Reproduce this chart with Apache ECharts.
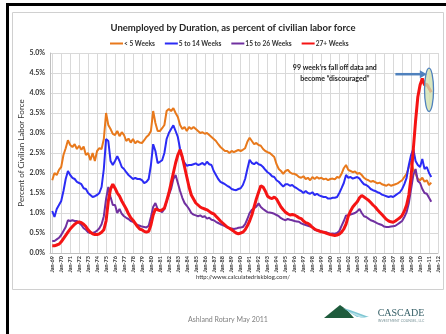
<!DOCTYPE html>
<html>
<head>
<meta charset="utf-8">
<script src="https://cdn.jsdelivr.net/npm/echarts@6.0.0/dist/echarts.min.js"></script>
<style>
  html, body { margin: 0; padding: 0; background: #ffffff; }
  #chart { width: 446px; height: 334px; }
</style>
</head>
<body>
<div id="chart"></div>
<script>
// Unemployed by duration as a percent of the civilian labor force.
// Quarterly readings (Jan, Apr, Jul, Oct) starting Jan 1969, ending Apr 2011.

const seriesNames = ['< 5 Weeks', '5 to 14 Weeks', '15 to 26 Weeks', '27+ Weeks'];

const underFiveWeeks = [
  1.82, 2.00, 1.95, 2.08,  // 1969
  2.15, 2.45, 2.62, 2.82,  // 1970
  2.70, 2.65, 2.72, 2.60,  // 1971
  2.68, 2.58, 2.66, 2.45,  // 1972
  2.50, 2.32, 2.50, 2.30,  // 1973
  2.55, 2.62, 2.60, 2.85,  // 1974
  3.50, 3.20, 3.10, 2.98,  // 1975
  2.95, 3.05, 2.92, 3.02,  // 1976
  2.95, 2.80, 2.86, 2.76,  // 1977
  2.85, 2.74, 2.80, 2.76,  // 1978
  2.75, 2.82, 2.90, 2.95,  // 1979
  3.05, 3.55, 3.25, 3.05,  // 1980
  3.05, 3.12, 3.20, 3.55,  // 1981
  3.60, 3.55, 3.62, 3.50,  // 1982
  3.40, 3.20, 3.10, 3.15,  // 1983
  3.05, 3.15, 3.10, 3.15,  // 1984
  3.10, 3.05, 3.00, 3.02,  // 1985
  2.98, 3.00, 2.95, 2.90,  // 1986
  2.85, 2.80, 2.72, 2.65,  // 1987
  2.60, 2.55, 2.55, 2.50,  // 1988
  2.55, 2.52, 2.55, 2.58,  // 1989
  2.55, 2.58, 2.62, 2.78,  // 1990
  2.88, 2.80, 2.72, 2.75,  // 1991
  2.70, 2.68, 2.60, 2.55,  // 1992
  2.52, 2.50, 2.45, 2.40,  // 1993
  2.22, 2.10, 2.05, 1.98,  // 1994
  2.05, 2.08, 2.02, 1.98,  // 1995
  1.98, 1.95, 1.90, 1.88,  // 1996
  1.92, 1.85, 1.88, 1.82,  // 1997
  1.90, 1.85, 1.90, 1.86,  // 1998
  1.88, 1.84, 1.86, 1.82,  // 1999
  1.85, 1.86, 1.84, 1.90,  // 2000
  1.88, 1.98, 2.12, 2.20,  // 2001
  2.08, 2.05, 2.02, 2.04,  // 2002
  1.98, 2.00, 1.95, 1.88,  // 2003
  1.84, 1.82, 1.78, 1.80,  // 2004
  1.77, 1.74, 1.76, 1.72,  // 2005
  1.70, 1.68, 1.72, 1.68,  // 2006
  1.70, 1.72, 1.74, 1.78,  // 2007
  1.82, 1.90, 1.98, 2.15,  // 2008
  2.30, 2.08, 1.98, 1.85,  // 2009
  1.82, 1.88, 1.78, 1.82,  // 2010
  1.70, 1.76               // 2011
];

const fiveToFourteenWeeks = [
  1.05, 0.90, 1.10, 1.20,  // 1969
  1.30, 1.55, 1.85, 2.05,  // 1970
  1.95, 1.88, 1.85, 1.78,  // 1971
  1.75, 1.72, 1.62, 1.60,  // 1972
  1.50, 1.45, 1.40, 1.42,  // 1973
  1.45, 1.50, 1.65, 2.10,  // 1974
  2.85, 2.80, 2.30, 2.20,  // 1975
  2.30, 2.42, 2.30, 2.15,  // 1976
  2.10, 2.02, 1.95, 1.90,  // 1977
  1.85, 1.88, 1.85, 1.85,  // 1978
  1.82, 1.75, 1.78, 1.85,  // 1979
  2.20, 2.72, 2.55, 2.25,  // 1980
  2.28, 2.32, 2.50, 2.85,  // 1981
  3.00, 3.10, 3.19, 3.05,  // 1982
  2.90, 2.60, 2.35, 2.25,  // 1983
  2.18, 2.20, 2.20, 2.22,  // 1984
  2.24, 2.20, 2.22, 2.25,  // 1985
  2.20, 2.28, 2.22, 2.20,  // 1986
  2.05, 1.95, 1.85, 1.78,  // 1987
  1.75, 1.72, 1.68, 1.65,  // 1988
  1.60, 1.58, 1.57, 1.60,  // 1989
  1.62, 1.70, 1.85, 2.10,  // 1990
  2.33, 2.25, 2.22, 2.27,  // 1991
  2.22, 2.20, 2.15, 2.08,  // 1992
  2.02, 1.98, 1.92, 1.90,  // 1993
  1.82, 1.78, 1.72, 1.66,  // 1994
  1.72, 1.72, 1.68, 1.70,  // 1995
  1.65, 1.62, 1.58, 1.55,  // 1996
  1.50, 1.55, 1.50, 1.48,  // 1997
  1.52, 1.45, 1.48, 1.44,  // 1998
  1.42, 1.40, 1.40, 1.36,  // 1999
  1.36, 1.38, 1.38, 1.40,  // 2000
  1.50, 1.62, 1.75, 1.95,  // 2001
  1.88, 1.90, 1.86, 1.88,  // 2002
  1.90, 1.86, 1.78, 1.72,  // 2003
  1.70, 1.66, 1.60, 1.57,  // 2004
  1.55, 1.52, 1.50, 1.46,  // 2005
  1.44, 1.42, 1.40, 1.42,  // 2006
  1.40, 1.44, 1.48, 1.52,  // 2007
  1.60, 1.72, 1.88, 2.20,  // 2008
  2.45, 2.60, 2.30, 2.20,  // 2009
  2.15, 2.35, 2.10, 2.15,  // 2010
  2.00, 1.90               // 2011
];

const fifteenToTwentySixWeeks = [
  0.30, 0.30, 0.34, 0.38,  // 1969
  0.45, 0.55, 0.65, 0.82,  // 1970
  0.80, 0.82, 0.80, 0.80,  // 1971
  0.75, 0.70, 0.62, 0.58,  // 1972
  0.52, 0.50, 0.50, 0.52,  // 1973
  0.56, 0.62, 0.72, 0.92,  // 1974
  1.35, 1.65, 1.40, 1.20,  // 1975
  1.20, 1.00, 1.10, 0.98,  // 1976
  0.92, 0.88, 0.85, 0.80,  // 1977
  0.78, 0.74, 0.70, 0.68,  // 1978
  0.66, 0.65, 0.64, 0.68,  // 1979
  0.90, 1.15, 1.25, 1.10,  // 1980
  1.06, 1.02, 1.10, 1.30,  // 1981
  1.45, 1.60, 1.85, 1.95,  // 1982
  1.75, 1.55, 1.38, 1.25,  // 1983
  1.18, 1.10, 1.00, 0.96,  // 1984
  0.94, 0.92, 0.94, 0.90,  // 1985
  0.92, 0.86, 0.88, 0.83,  // 1986
  0.82, 0.78, 0.75, 0.72,  // 1987
  0.70, 0.67, 0.64, 0.62,  // 1988
  0.61, 0.60, 0.61, 0.63,  // 1989
  0.64, 0.65, 0.72, 0.85,  // 1990
  1.00, 1.08, 1.12, 1.16,  // 1991
  1.24, 1.15, 1.10, 1.06,  // 1992
  1.02, 1.01, 1.00, 0.98,  // 1993
  0.95, 0.92, 0.87, 0.84,  // 1994
  0.82, 0.85, 0.83, 0.82,  // 1995
  0.80, 0.79, 0.78, 0.74,  // 1996
  0.72, 0.70, 0.68, 0.66,  // 1997
  0.65, 0.58, 0.56, 0.56,  // 1998
  0.54, 0.52, 0.52, 0.50,  // 1999
  0.48, 0.49, 0.48, 0.50,  // 2000
  0.55, 0.68, 0.80, 0.94,  // 2001
  0.94, 0.96, 0.98, 1.00,  // 2002
  1.04, 1.10, 1.00, 0.92,  // 2003
  0.90, 0.86, 0.82, 0.80,  // 2004
  0.77, 0.74, 0.72, 0.70,  // 2005
  0.66, 0.65, 0.65, 0.66,  // 2006
  0.67, 0.68, 0.72, 0.76,  // 2007
  0.80, 0.90, 1.02, 1.25,  // 2008
  1.60, 1.95, 2.10, 1.80,  // 2009
  1.75, 1.60, 1.50, 1.48,  // 2010
  1.38, 1.28               // 2011
];

const twentySevenPlusWeeks = [
  0.18, 0.18, 0.20, 0.22,  // 1969
  0.28, 0.36, 0.44, 0.52,  // 1970
  0.60, 0.66, 0.72, 0.76,  // 1971
  0.78, 0.76, 0.72, 0.66,  // 1972
  0.58, 0.52, 0.48, 0.46,  // 1973
  0.46, 0.48, 0.52, 0.58,  // 1974
  0.80, 1.30, 1.60, 1.72,  // 1975
  1.62, 1.50, 1.42, 1.30,  // 1976
  1.20, 1.10, 0.98, 0.88,  // 1977
  0.82, 0.74, 0.66, 0.60,  // 1978
  0.58, 0.54, 0.52, 0.54,  // 1979
  0.70, 0.95, 1.10, 1.08,  // 1980
  1.06, 1.08, 1.12, 1.30,  // 1981
  1.50, 1.75, 2.00, 2.25,  // 1982
  2.45, 2.58, 2.40, 2.15,  // 1983
  1.90, 1.65, 1.45, 1.35,  // 1984
  1.25, 1.20, 1.15, 1.12,  // 1985
  1.10, 1.08, 1.04, 1.00,  // 1986
  0.98, 0.92, 0.86, 0.80,  // 1987
  0.75, 0.70, 0.65, 0.62,  // 1988
  0.58, 0.54, 0.50, 0.48,  // 1989
  0.50, 0.52, 0.58, 0.68,  // 1990
  0.80, 0.95, 1.15, 1.35,  // 1991
  1.52, 1.68, 1.65, 1.55,  // 1992
  1.42, 1.38, 1.36, 1.40,  // 1993
  1.35, 1.25, 1.15, 1.08,  // 1994
  1.02, 0.98, 0.95, 0.96,  // 1995
  0.95, 0.92, 0.88, 0.86,  // 1996
  0.80, 0.76, 0.74, 0.70,  // 1997
  0.64, 0.60, 0.57, 0.55,  // 1998
  0.53, 0.52, 0.50, 0.48,  // 1999
  0.46, 0.45, 0.44, 0.45,  // 2000
  0.47, 0.52, 0.60, 0.72,  // 2001
  0.92, 1.05, 1.15, 1.22,  // 2002
  1.28, 1.38, 1.44, 1.40,  // 2003
  1.36, 1.32, 1.26, 1.20,  // 2004
  1.15, 1.08, 1.02, 0.96,  // 2005
  0.90, 0.84, 0.80, 0.78,  // 2006
  0.77, 0.80, 0.84, 0.88,  // 2007
  0.94, 1.05, 1.20, 1.45,  // 2008
  1.90, 2.60, 3.30, 3.90,  // 2009
  4.20, 4.36, 4.20, 4.22,  // 2010
  4.12, 4.02               // 2011
];

const seriesColors = ['#E8791C', '#2B2BF5', '#7030A0', '#F51414'];
const seriesWidths = [2, 2, 2, 3];

// Quarterly category axis: one lead-in quarter before Jan-69, runs to Jan-12.
const quarterMonths = ['Jan', 'Apr', 'Jul', 'Oct'];
const categories = ['Oct-68'];
for (let year = 1969; year <= 2011; year++) {
  const yy = String(year % 100).padStart(2, '0');
  quarterMonths.forEach(function (m) { categories.push(m + '-' + yy); });
}
categories.push('Jan-12');

const firstDataCategory = categories.indexOf('Jan-69');
function alignToAxis(values) {
  const out = new Array(firstDataCategory).fill(null);
  return out.concat(values);
}

const yTickFormat = function (v) { return v.toFixed(1) + '%'; };
const isJanuary = function (index, value) { return String(value).indexOf('Jan') === 0; };

const fontFamily = 'Lato, "Open Sans", sans-serif';
const gridColor = '#D9D9D9';

const chart = echarts.init(document.getElementById('chart'), null, { renderer: 'canvas' });

const allValues = [underFiveWeeks, fiveToFourteenWeeks, fifteenToTwentySixWeeks, twentySevenPlusWeeks];

chart.setOption({
  backgroundColor: '#ffffff',
  animation: false,
  title: {
    text: 'Unemployed by Duration, as percent of civilian labor force',
    left: 228,
    textAlign: 'center',
    top: 18,
    textStyle: { fontFamily: fontFamily, fontSize: 9.5, fontWeight: 'bold', color: '#262626' }
  },
  legend: {
    data: seriesNames,
    left: 105,
    top: 35,
    icon: 'rect',
    itemWidth: 13,
    itemHeight: 2,
    itemGap: 10,
    textStyle: { fontFamily: fontFamily, fontSize: 6.6, fontWeight: 'bold', color: '#333333', padding: [0, 0, 0, -4] }
  },
  grid: { left: 50, right: 8, top: 53, bottom: 81, containLabel: false },
  xAxis: {
    type: 'category',
    data: categories,
    boundaryGap: false,
    axisLine: { show: true, lineStyle: { color: '#BFBFBF', width: 1 } },
    axisTick: { show: false },
    axisLabel: {
      interval: isJanuary,
      rotate: 90,
      margin: 3,
      fontFamily: fontFamily,
      fontSize: 5.5,
      fontWeight: 'bold',
      color: '#333333'
    },
    splitLine: { show: true, interval: isJanuary, lineStyle: { color: gridColor, width: 1 } }
  },
  yAxis: {
    type: 'value',
    min: 0,
    max: 5,
    interval: 0.5,
    name: 'Percent of Civilian Labor Force',
    nameLocation: 'middle',
    nameGap: 25,
    nameMoveOverlap: false,
    nameTextStyle: { fontFamily: fontFamily, fontSize: 8, color: '#333333' },
    axisLine: { show: true, lineStyle: { color: '#BFBFBF', width: 1 } },
    axisTick: { show: false },
    axisLabel: { formatter: yTickFormat, margin: 5, fontFamily: fontFamily, fontSize: 7, fontWeight: 'bold', color: '#333333' },
    splitLine: { show: true, lineStyle: { color: gridColor, width: 1 } }
  },
  series: seriesNames.map(function (name, i) {
    return {
      name: name,
      type: 'line',
      data: alignToAxis(allValues[i]),
      showSymbol: false,
      symbol: 'none',
      smooth: false,
      color: seriesColors[i],
      lineStyle: { color: seriesColors[i], width: seriesWidths[i] },
      z: 2 + i
    };
  })
});

// Annotation anchored to axis coordinates
function px(category, value) {
  return chart.convertToPixel({ gridIndex: 0 }, [categories.indexOf(category), value]);
}
const noteAnchor = px('Jul-00', 4.5);
const arrowStart = px('Apr-07', 4.47);
const arrowEnd = px('Oct-10', 4.47);
const ovalCenter = px('Jan-11', 4.08);
const ovalTop = px('Jan-11', 4.62);

chart.setOption({
  graphic: [
    // slide frame
    { type: 'rect', shape: { x: 6, y: 3, width: 440, height: 3 }, style: { fill: '#000000' }, silent: true, z: 100 },
    { type: 'rect', shape: { x: 6, y: 3, width: 3, height: 331 }, style: { fill: '#000000' }, silent: true, z: 100 },
    { type: 'rect', shape: { x: 12.5, y: 12.5, width: 431, height: 277 }, style: { fill: 'none', stroke: '#D0D0D0', lineWidth: 1 }, silent: true, z: -1 },
    // annotation text
    {
      type: 'text', x: noteAnchor[0], y: noteAnchor[1], z: 50,
      style: {
        text: '99 week\u2019rs fall off data and\nbecome \u201cdiscouraged\u201d',
        align: 'center', verticalAlign: 'middle', lineHeight: 11,
        font: 'bold 7px ' + fontFamily, fill: '#1A1A1A'
      }
    },
    // arrow
    {
      type: 'line', z: 50,
      shape: { x1: arrowStart[0], y1: arrowStart[1], x2: arrowEnd[0] - 5, y2: arrowEnd[1] },
      style: { stroke: '#4F81BD', lineWidth: 2.5 }
    },
    {
      type: 'polygon', z: 50,
      shape: { points: [[arrowEnd[0], arrowEnd[1]], [arrowEnd[0] - 7, arrowEnd[1] - 4], [arrowEnd[0] - 7, arrowEnd[1] + 4]] },
      style: { fill: '#4F81BD' }
    },
    // oval around the latest readings
    {
      type: 'ellipse', z: 40,
      shape: { cx: ovalCenter[0], cy: ovalCenter[1], rx: 4.5, ry: ovalCenter[1] - ovalTop[1] },
      style: { fill: 'rgba(210,225,175,0.8)', stroke: '#4F81BD', lineWidth: 1.3 }
    },
    // source line
    {
      type: 'text', x: 243, y: 277, z: 50,
      style: { text: 'http://www.calculatedriskblog.com/', align: 'center', verticalAlign: 'middle', font: '6px ' + fontFamily, fill: '#333333' }
    },
    // footer
    {
      type: 'text', x: 228, y: 320, z: 50,
      style: { text: 'Ashland Rotary May 2011', align: 'center', verticalAlign: 'middle', font: '7px ' + fontFamily, fill: '#808080' }
    },
    // logo mark
    {
      type: 'polygon', z: 50,
      shape: { points: [[324, 318], [340, 305], [347, 310], [354, 318]] },
      style: { fill: '#1E5B3C' }
    },
    {
      type: 'polygon', z: 51,
      shape: { points: [[343, 308], [350, 310], [369, 317], [357, 317]] },
      style: { fill: '#7FC7D3' }
    },
    {
      type: 'polygon', z: 51,
      shape: { points: [[349, 312], [354, 313], [367, 318], [361, 318]] },
      style: { fill: '#B9E2EA' }
    },
    {
      type: 'text', x: 401, y: 313, z: 50,
      style: { text: 'CASCADE', align: 'center', verticalAlign: 'middle', font: '10px "Liberation Serif", "DejaVu Serif", serif', fill: '#355F66' }
    },
    {
      type: 'text', x: 401, y: 321, z: 50,
      style: { text: 'INVESTMENT COUNSEL, LLC', align: 'center', verticalAlign: 'middle', font: '3.5px ' + fontFamily, fill: '#7A9499' }
    }
  ]
});
</script>
</body>
</html>
